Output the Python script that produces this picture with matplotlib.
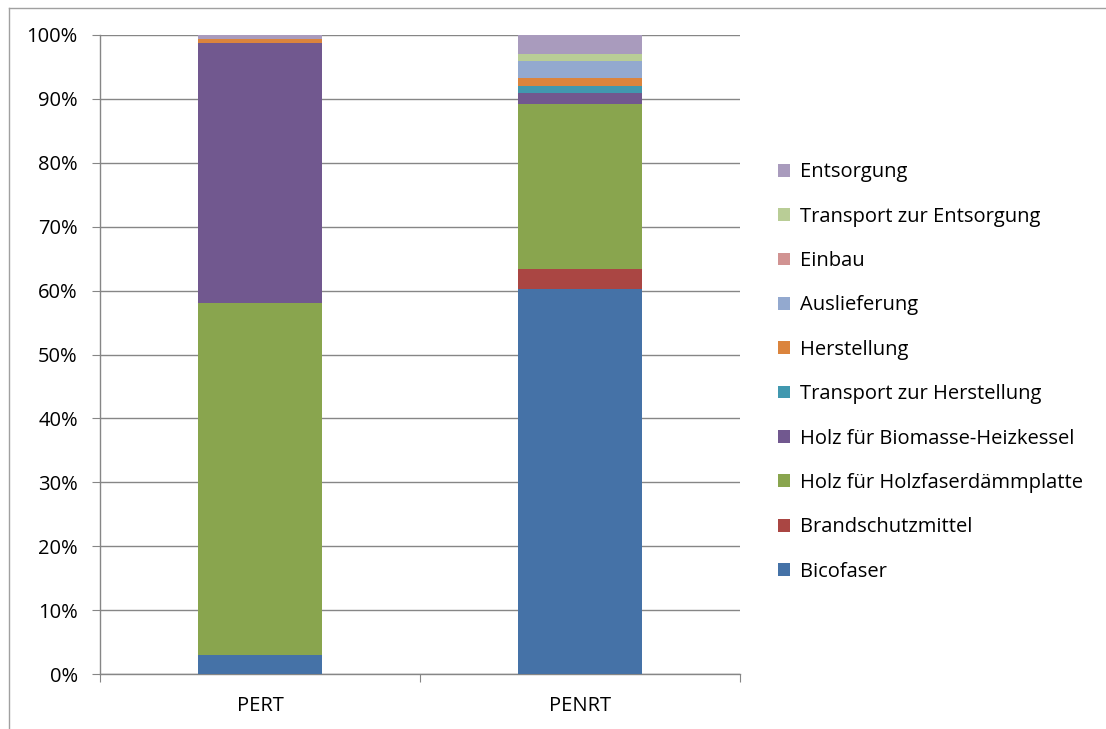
import matplotlib.pyplot as plt
from matplotlib.lines import Line2D
from matplotlib.patches import Patch

# data (percent of each indicator)
categories = ["PERT", "PENRT"]
series_names = [
    "Bicofaser",
    "Brandschutzmittel",
    "Holz für Holzfaserdämmplatte",
    "Holz für Biomasse-Heizkessel",
    "Transport zur Herstellung",
    "Herstellung",
    "Auslieferung",
    "Einbau",
    "Transport zur Entsorgung",
    "Entsorgung",
]
pert = [3.0, 0.0, 55.0, 40.7, 0.0, 0.7, 0.05, 0.0, 0.0, 0.55]
penrt = [60.2, 3.2, 25.8, 1.7, 1.1, 1.2, 2.7, 0.0, 1.1, 3.0]
colors = ["#4572A7", "#AA4643", "#89A54E", "#71588F", "#4198AF",
          "#DB843D", "#93A9CF", "#D19392", "#B9CD96", "#A99BBD"]

plt.rcParams['font.family'] = ['Open Sans', 'DejaVu Sans']

fig = plt.figure(figsize=(11.06, 7.29), dpi=100)
ax = fig.add_axes([100 / 1106, 1 - 674 / 729, 640 / 1106, 639 / 729])

x = [0, 1]
bottom = [0.0, 0.0]
for i, name in enumerate(series_names):
    vals = [pert[i], penrt[i]]
    ax.bar(x, vals, width=0.39, bottom=bottom, color=colors[i], zorder=3)
    bottom = [bottom[0] + vals[0], bottom[1] + vals[1]]

ax.set_xlim(-0.5, 1.5)
ax.set_ylim(0, 100)
ax.set_yticks(range(0, 101, 10))
ax.set_yticklabels([f"{v}%" for v in range(0, 101, 10)], fontsize=14.5)
ax.set_xticks([-0.5, 0.5, 1.5], minor=False)
ax.set_xticklabels([])
ax.set_xticks(x, minor=True)
ax.set_xticklabels(categories, minor=True, fontsize=14.5)
ax.tick_params(axis='x', which='major', length=6, color='#868686')
ax.tick_params(axis='x', which='minor', length=0, pad=16)
ax.tick_params(axis='y', length=6, color='#868686', pad=10)
ax.grid(axis='y', color='#868686', linewidth=1, zorder=0)
for s in ['top', 'right']:
    ax.spines[s].set_visible(False)
for s in ['left', 'bottom']:
    ax.spines[s].set_color('#868686')
    ax.spines[s].set_linewidth(1)

handles = [Patch(facecolor=c) for c in colors]
fig.legend(handles[::-1], series_names[::-1], loc='center left',
           bbox_to_anchor=(770 / 1106, 1 - 372 / 729), frameon=False,
           fontsize=14.5, handlelength=0.6, handleheight=0.6,
           handletextpad=0.5, labelspacing=1.21, borderaxespad=0)

# light frame around the chart (only left and top visible in the crop)
fig.add_artist(Line2D([9 / 1106, 9 / 1106], [0, 1 - 8 / 729],
                      transform=fig.transFigure, color='#a0a0a0', lw=1))
fig.add_artist(Line2D([9 / 1106, 1], [1 - 8 / 729, 1 - 8 / 729],
                      transform=fig.transFigure, color='#a0a0a0', lw=1))

fig.savefig("out.png", dpi=100)
